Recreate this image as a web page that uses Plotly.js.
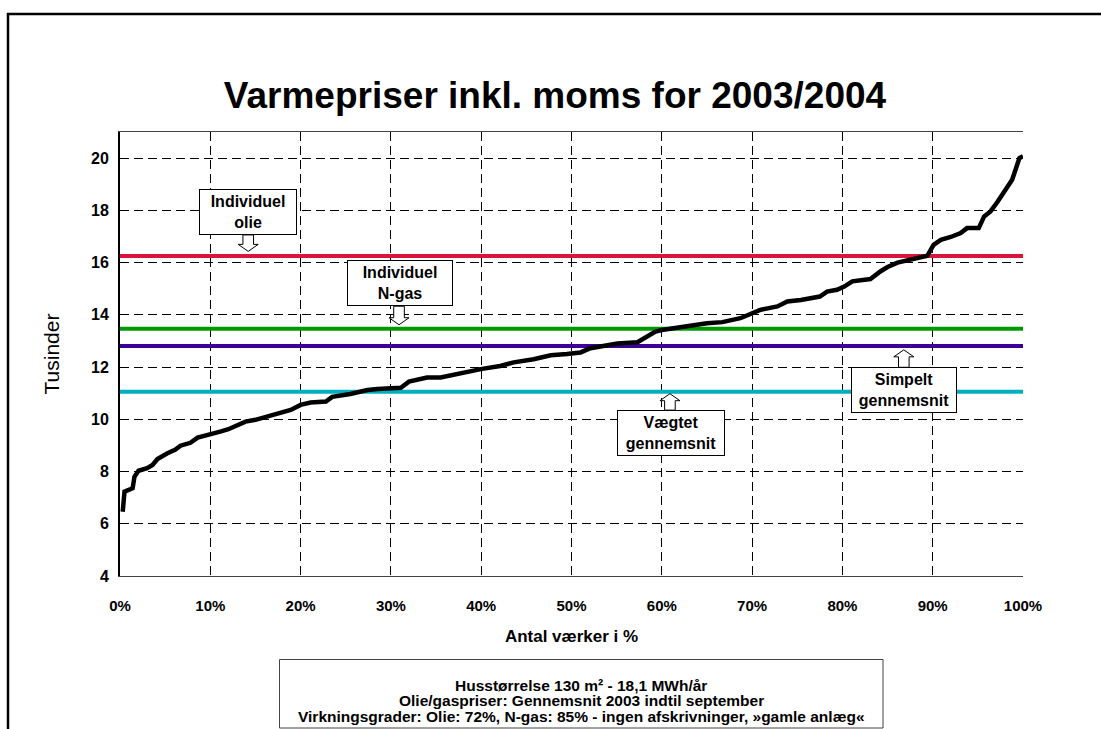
<!DOCTYPE html>
<html>
<head>
<meta charset="utf-8">
<script src="https://cdn.plot.ly/plotly-3.0.1.min.js"></script>
<style>
html,body{margin:0;padding:0;background:#fff;}
#chart{width:1101px;height:729px;}
</style>
</head>
<body>
<div id="chart"></div>
<script>
// ---- data ----
const sharePct = [0.3, 0.5, 1.4, 1.6, 2.05, 3.0, 3.6, 4.15, 5.25, 6.1, 6.7, 7.8, 8.6, 9.9, 11.1, 12.0, 13.1, 13.9, 15.0, 16.1, 17.2, 18.9, 20.0, 21.1, 22.8, 23.5, 25.5, 27.4, 28.5, 31.1, 32.0, 34.0, 35.5, 38.4, 40.1, 42.1, 43.6, 45.8, 47.7, 49.5, 51.0, 52.1, 53.9, 55.1, 57.3, 58.4, 59.3, 60.0, 62.2, 65.0, 66.7, 68.7, 70.9, 72.8, 73.9, 75.4, 77.5, 78.3, 79.4, 80.2, 81.1, 83.1, 84.2, 85.0, 86.1, 87.5, 89.4, 90.1, 90.9, 92.0, 93.1, 93.8, 95.1, 95.7, 96.4, 97.2, 98.8, 99.6, 100];
const priceK = [6.46, 7.23, 7.36, 7.8, 8.03, 8.13, 8.25, 8.48, 8.7, 8.83, 8.99, 9.1, 9.3, 9.4, 9.53, 9.62, 9.79, 9.91, 9.98, 10.08, 10.2, 10.36, 10.55, 10.64, 10.68, 10.86, 10.97, 11.12, 11.16, 11.21, 11.44, 11.6, 11.6, 11.83, 11.93, 12.04, 12.18, 12.3, 12.45, 12.5, 12.56, 12.72, 12.85, 12.9, 12.95, 13.17, 13.36, 13.42, 13.53, 13.68, 13.72, 13.87, 14.19, 14.32, 14.51, 14.57, 14.7, 14.89, 14.96, 15.08, 15.28, 15.37, 15.66, 15.83, 16.0, 16.1, 16.26, 16.68, 16.87, 16.98, 17.13, 17.32, 17.32, 17.77, 17.96, 18.34, 19.17, 20.0, 20.07];

const refNames  = ["Individuel olie", "Individuel N-gas", "Simpelt gennemsnit", "Vægtet gennemsnit"];
const refValues = [16.25, 13.47, 12.81, 11.05];
const refColors = ["#DC143C", "#009A00", "#3D0096", "#00AFBF"];

const xTickVals = [0,10,20,30,40,50,60,70,80,90,100];
const xTickText = ["0%","10%","20%","30%","40%","50%","60%","70%","80%","90%","100%"];
const yTickVals = [4,6,8,10,12,14,16,18,20];

const titleText = "Varmepriser inkl. moms for 2003/2004";
const xTitle = "Antal værker i %";
const yTitle = "Tusinder";
const noteLines = ["Husstørrelse 130 m² - 18,1 MWh/år", "Olie/gaspriser: Gennemsnit 2003 indtil september", "Virkningsgrader: Olie: 72%, N-gas: 85% - ingen afskrivninger, »gamle anlæg«"];

// callouts: label, box centre x (%), arrow x (%), arrow tip y, box centre y, direction, box width (px)
const callouts = [
  {text: "Individuel<br>olie", x: 14.2, ax: 14.2, tip: 16.43, boxY: 17.94, dir: "down", w: 92},
  {text: "Individuel<br>N-gas", x: 31.0, ax: 30.9, tip: 13.62, boxY: 15.21, dir: "down", w: 100},
  {text: "Vægtet<br>gennemsnit", x: 61.0, ax: 60.9, tip: 10.98, boxY: 9.47, dir: "up", w: 102},
  {text: "Simpelt<br>gennemsnit", x: 86.8, ax: 86.8, tip: 12.66, boxY: 11.11, dir: "up", w: 100}
];

// ---- layout geometry ----
const W = 1101, H = 729;
const M = {l: 120, r: 78, t: 132, b: 153};
const plotW = W - M.l - M.r, plotH = H - M.t - M.b;
const xRange = [0, 100], yRange = [4, 21];
const pxX = plotW / (xRange[1] - xRange[0]);
const pxY = plotH / (yRange[1] - yRange[0]);

const FONT = "Liberation Sans, Arial, sans-serif";

const traces = [];
refValues.forEach((v, i) => {
  traces.push({
    x: [xRange[0], xRange[1]], y: [v, v], mode: "lines", name: refNames[i],
    line: {color: refColors[i], width: 4}, showlegend: false
  });
});
traces.push({
  x: sharePct, y: priceK, mode: "lines", name: "Varmepris",
  line: {color: "#000", width: 4.5}, showlegend: false
});

// block arrows
const shapes = [];
const boxHalfH = 23; // px
callouts.forEach(c => {
  const s = c.dir === "down" ? 1 : -1;
  const hx = 10 / pxX, sx = 5.3 / pxX;
  const headH = 7 / pxY;
  const base = c.boxY - s * boxHalfH / pxY;
  const neck = c.tip + s * headH;
  const xc = c.ax;
  const pts = [
    [xc - sx, base], [xc - sx, neck], [xc - hx, neck], [xc, c.tip],
    [xc + hx, neck], [xc + sx, neck], [xc + sx, base]
  ];
  const path = "M" + pts.map(p => p[0].toFixed(3) + "," + p[1].toFixed(3)).join(" L") + " Z";
  shapes.push({type: "path", xref: "x", yref: "y", path: path, fillcolor: "#fff",
    line: {color: "#000", width: 1}, layer: "above"});
});

// outer frame (partial, as in reference)
const fx = (px) => (px - M.l) / plotW;
const fy = (py) => (H - M.b - py) / plotH;
shapes.push({type: "line", xref: "paper", yref: "paper", x0: fx(8), x1: fx(8), y0: fy(13), y1: fy(740), line: {color: "#000", width: 2.5}});
shapes.push({type: "line", xref: "paper", yref: "paper", x0: fx(7), x1: fx(1120), y0: fy(14), y1: fy(14), line: {color: "#000", width: 2.5}});
// note box
shapes.push({type: "rect", xref: "paper", yref: "paper", x0: fx(279.5), x1: fx(883), y0: fy(659.5), y1: fy(728), line: {color: "#444", width: 1}, fillcolor: "#fff", layer: "below"});

const annotations = callouts.map(c => ({
  xref: "x", yref: "y", x: c.x, y: c.boxY, text: c.text, showarrow: false,
  xanchor: "center", yanchor: "middle",
  font: {family: FONT, size: 16, color: "#000", weight: "bold"},
  bgcolor: "#fff", bordercolor: "#000", borderwidth: 1, borderpad: 2,
  width: c.w, height: 40
}));
const noteY = [685, 700.5, 716];
noteLines.forEach((t, i) => {
  annotations.push({
    xref: "paper", yref: "paper", x: (fx(279.5) + fx(883)) / 2, y: fy(noteY[i]),
    text: t, showarrow: false, xanchor: "center", yanchor: "middle",
    font: {family: FONT, size: 15.5, color: "#000", weight: "bold"}
  });
});

const layout = {
  width: W, height: H,
  margin: M,
  paper_bgcolor: "#fff", plot_bgcolor: "#fff",
  title: {text: titleText, font: {family: FONT, size: 37, color: "#000", weight: "bold"},
    xref: "paper", x: fx(555), xanchor: "center", yref: "container", y: 1 - 95 / H, yanchor: "middle"},
  xaxis: {
    range: xRange, tickvals: xTickVals, ticktext: xTickText, ticks: "",
    showgrid: true, gridcolor: "#000", gridwidth: 1, griddash: "9px,5px",
    zeroline: false, showline: true, linecolor: "#444", linewidth: 1, mirror: true,
    tickfont: {family: FONT, size: 15, color: "#000", weight: "bold"},
    ticklabelstandoff: 16,
    title: {text: xTitle, font: {family: FONT, size: 17, color: "#000", weight: "bold"}, standoff: 17},
    fixedrange: true
  },
  yaxis: {
    range: yRange, tickvals: yTickVals, ticks: "",
    showgrid: true, gridcolor: "#000", gridwidth: 1, griddash: "9px,5px",
    zeroline: false, showline: true, linecolor: "#000", linewidth: 2, mirror: false,
    tickfont: {family: FONT, size: 16, color: "#000", weight: "bold"},
    ticklabelstandoff: 6,
    title: {text: yTitle, font: {family: FONT, size: 21, color: "#000"}, standoff: 26},
    fixedrange: true
  },
  shapes: shapes,
  annotations: annotations,
  showlegend: false
};

Plotly.newPlot("chart", traces, layout, {displayModeBar: false, staticPlot: true});
</script>
</body>
</html>
